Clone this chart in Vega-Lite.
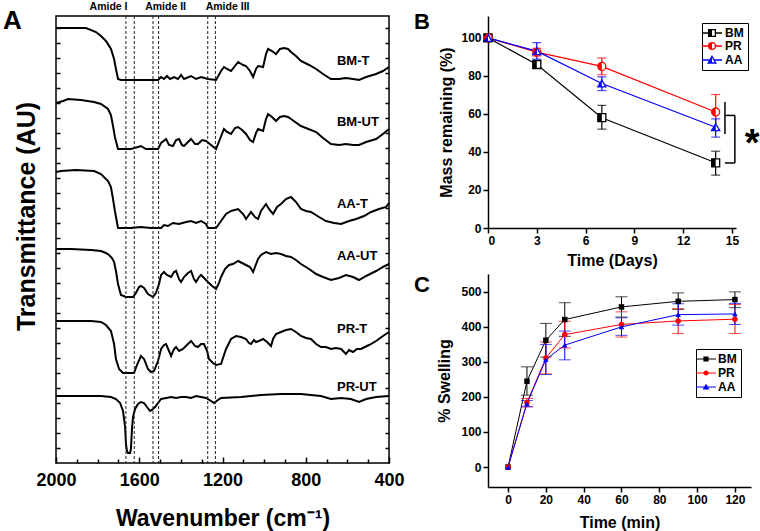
{
"$schema":"https://vega.github.io/schema/vega-lite/v6.json",
"background":"white",
"padding":{"left":2,"top":0,"right":0,"bottom":0},
"config":{"font":"Liberation Sans","view":{"stroke":null},
"axis":{"domainColor":"black","tickColor":"black","labelColor":"black","titleColor":"black","grid":false,"labelFontWeight":"bold","titleFontWeight":"bold","domainWidth":1.5,"tickWidth":1.5,"labelFont":"Liberation Sans","titleFont":"Liberation Sans"},
"legend":{"labelFont":"Liberation Sans","labelColor":"black"},
"title":{"font":"Liberation Sans","color":"black"}},
"datasets":{
"spectra":[
{"s":"BM-T","w":2000,"t":435},{"s":"BM-T","w":1856,"t":435},{"s":"BM-T","w":1808,"t":431},{"s":"BM-T","w":1784,"t":427},{"s":"BM-T","w":1760,"t":422},{"s":"BM-T","w":1736,"t":414},{"s":"BM-T","w":1721,"t":404},{"s":"BM-T","w":1712,"t":394},{"s":"BM-T","w":1702,"t":384},{"s":"BM-T","w":1688,"t":383},{"s":"BM-T","w":1510,"t":383},{"s":"BM-T","w":1495,"t":386},{"s":"BM-T","w":1481,"t":384},{"s":"BM-T","w":1467,"t":387},{"s":"BM-T","w":1452,"t":384},{"s":"BM-T","w":1433,"t":386},{"s":"BM-T","w":1414,"t":384},{"s":"BM-T","w":1399,"t":388},{"s":"BM-T","w":1385,"t":384},{"s":"BM-T","w":1351,"t":387},{"s":"BM-T","w":1327,"t":384},{"s":"BM-T","w":1303,"t":386},{"s":"BM-T","w":1270,"t":384},{"s":"BM-T","w":1231,"t":383},{"s":"BM-T","w":1207,"t":392},{"s":"BM-T","w":1193,"t":396},{"s":"BM-T","w":1178,"t":394},{"s":"BM-T","w":1159,"t":392},{"s":"BM-T","w":1125,"t":401},{"s":"BM-T","w":1101,"t":398},{"s":"BM-T","w":1087,"t":397},{"s":"BM-T","w":1068,"t":392},{"s":"BM-T","w":1053,"t":386},{"s":"BM-T","w":1039,"t":394},{"s":"BM-T","w":1029,"t":397},{"s":"BM-T","w":1005,"t":396},{"s":"BM-T","w":991,"t":409},{"s":"BM-T","w":981,"t":414},{"s":"BM-T","w":962,"t":412},{"s":"BM-T","w":943,"t":409},{"s":"BM-T","w":924,"t":414},{"s":"BM-T","w":904,"t":415},{"s":"BM-T","w":885,"t":414},{"s":"BM-T","w":871,"t":411},{"s":"BM-T","w":847,"t":407},{"s":"BM-T","w":823,"t":402},{"s":"BM-T","w":784,"t":398},{"s":"BM-T","w":750,"t":394},{"s":"BM-T","w":717,"t":389},{"s":"BM-T","w":679,"t":384},{"s":"BM-T","w":640,"t":384},{"s":"BM-T","w":607,"t":385},{"s":"BM-T","w":573,"t":384},{"s":"BM-T","w":544,"t":383},{"s":"BM-T","w":510,"t":386},{"s":"BM-T","w":462,"t":389},{"s":"BM-T","w":429,"t":392},{"s":"BM-T","w":400,"t":396},
{"s":"BM-UT","w":2000,"t":360},{"s":"BM-UT","w":1966,"t":362},{"s":"BM-UT","w":1942,"t":364},{"s":"BM-UT","w":1880,"t":363},{"s":"BM-UT","w":1817,"t":361},{"s":"BM-UT","w":1784,"t":359},{"s":"BM-UT","w":1750,"t":354},{"s":"BM-UT","w":1736,"t":348},{"s":"BM-UT","w":1726,"t":337},{"s":"BM-UT","w":1717,"t":326},{"s":"BM-UT","w":1702,"t":314},{"s":"BM-UT","w":1640,"t":314},{"s":"BM-UT","w":1606,"t":316},{"s":"BM-UT","w":1592,"t":317},{"s":"BM-UT","w":1568,"t":314},{"s":"BM-UT","w":1510,"t":314},{"s":"BM-UT","w":1495,"t":320},{"s":"BM-UT","w":1471,"t":324},{"s":"BM-UT","w":1457,"t":318},{"s":"BM-UT","w":1438,"t":317},{"s":"BM-UT","w":1423,"t":323},{"s":"BM-UT","w":1409,"t":324},{"s":"BM-UT","w":1395,"t":318},{"s":"BM-UT","w":1385,"t":317},{"s":"BM-UT","w":1366,"t":321},{"s":"BM-UT","w":1351,"t":324},{"s":"BM-UT","w":1332,"t":319},{"s":"BM-UT","w":1318,"t":319},{"s":"BM-UT","w":1298,"t":323},{"s":"BM-UT","w":1279,"t":322},{"s":"BM-UT","w":1255,"t":318},{"s":"BM-UT","w":1231,"t":314},{"s":"BM-UT","w":1212,"t":324},{"s":"BM-UT","w":1193,"t":334},{"s":"BM-UT","w":1178,"t":331},{"s":"BM-UT","w":1159,"t":329},{"s":"BM-UT","w":1140,"t":335},{"s":"BM-UT","w":1125,"t":336},{"s":"BM-UT","w":1106,"t":333},{"s":"BM-UT","w":1087,"t":329},{"s":"BM-UT","w":1068,"t":323},{"s":"BM-UT","w":1053,"t":321},{"s":"BM-UT","w":1039,"t":330},{"s":"BM-UT","w":1029,"t":334},{"s":"BM-UT","w":1005,"t":332},{"s":"BM-UT","w":991,"t":344},{"s":"BM-UT","w":981,"t":349},{"s":"BM-UT","w":962,"t":346},{"s":"BM-UT","w":943,"t":342},{"s":"BM-UT","w":924,"t":346},{"s":"BM-UT","w":904,"t":347},{"s":"BM-UT","w":885,"t":346},{"s":"BM-UT","w":871,"t":344},{"s":"BM-UT","w":823,"t":337},{"s":"BM-UT","w":750,"t":331},{"s":"BM-UT","w":717,"t":325},{"s":"BM-UT","w":679,"t":319},{"s":"BM-UT","w":640,"t":318},{"s":"BM-UT","w":607,"t":319},{"s":"BM-UT","w":573,"t":318},{"s":"BM-UT","w":544,"t":318},{"s":"BM-UT","w":510,"t":321},{"s":"BM-UT","w":462,"t":324},{"s":"BM-UT","w":429,"t":329},{"s":"BM-UT","w":400,"t":334},
{"s":"AA-T","w":2000,"t":291},{"s":"AA-T","w":1976,"t":292},{"s":"AA-T","w":1904,"t":293},{"s":"AA-T","w":1817,"t":292},{"s":"AA-T","w":1784,"t":289},{"s":"AA-T","w":1750,"t":282},{"s":"AA-T","w":1736,"t":276},{"s":"AA-T","w":1726,"t":264},{"s":"AA-T","w":1717,"t":252},{"s":"AA-T","w":1702,"t":235},{"s":"AA-T","w":1640,"t":235},{"s":"AA-T","w":1592,"t":236},{"s":"AA-T","w":1544,"t":235},{"s":"AA-T","w":1495,"t":235},{"s":"AA-T","w":1481,"t":238},{"s":"AA-T","w":1462,"t":237},{"s":"AA-T","w":1438,"t":240},{"s":"AA-T","w":1409,"t":239},{"s":"AA-T","w":1375,"t":241},{"s":"AA-T","w":1351,"t":242},{"s":"AA-T","w":1327,"t":240},{"s":"AA-T","w":1303,"t":242},{"s":"AA-T","w":1279,"t":239},{"s":"AA-T","w":1270,"t":235},{"s":"AA-T","w":1231,"t":235},{"s":"AA-T","w":1207,"t":242},{"s":"AA-T","w":1183,"t":249},{"s":"AA-T","w":1159,"t":252},{"s":"AA-T","w":1125,"t":254},{"s":"AA-T","w":1101,"t":249},{"s":"AA-T","w":1087,"t":244},{"s":"AA-T","w":1063,"t":251},{"s":"AA-T","w":1044,"t":246},{"s":"AA-T","w":1029,"t":244},{"s":"AA-T","w":1015,"t":252},{"s":"AA-T","w":991,"t":259},{"s":"AA-T","w":977,"t":254},{"s":"AA-T","w":957,"t":249},{"s":"AA-T","w":938,"t":256},{"s":"AA-T","w":919,"t":259},{"s":"AA-T","w":895,"t":264},{"s":"AA-T","w":871,"t":266},{"s":"AA-T","w":847,"t":261},{"s":"AA-T","w":823,"t":254},{"s":"AA-T","w":799,"t":252},{"s":"AA-T","w":775,"t":251},{"s":"AA-T","w":736,"t":246},{"s":"AA-T","w":703,"t":242},{"s":"AA-T","w":664,"t":240},{"s":"AA-T","w":630,"t":239},{"s":"AA-T","w":592,"t":242},{"s":"AA-T","w":558,"t":244},{"s":"AA-T","w":520,"t":247},{"s":"AA-T","w":486,"t":251},{"s":"AA-T","w":448,"t":254},{"s":"AA-T","w":414,"t":256},{"s":"AA-T","w":400,"t":260},
{"s":"AA-UT","w":2000,"t":214},{"s":"AA-UT","w":1928,"t":214},{"s":"AA-UT","w":1832,"t":213},{"s":"AA-UT","w":1784,"t":212},{"s":"AA-UT","w":1760,"t":210},{"s":"AA-UT","w":1745,"t":208},{"s":"AA-UT","w":1731,"t":205},{"s":"AA-UT","w":1721,"t":201},{"s":"AA-UT","w":1712,"t":192},{"s":"AA-UT","w":1702,"t":179},{"s":"AA-UT","w":1688,"t":168},{"s":"AA-UT","w":1664,"t":166},{"s":"AA-UT","w":1630,"t":166},{"s":"AA-UT","w":1616,"t":170},{"s":"AA-UT","w":1601,"t":176},{"s":"AA-UT","w":1592,"t":177},{"s":"AA-UT","w":1577,"t":175},{"s":"AA-UT","w":1558,"t":169},{"s":"AA-UT","w":1534,"t":166},{"s":"AA-UT","w":1520,"t":170},{"s":"AA-UT","w":1505,"t":179},{"s":"AA-UT","w":1495,"t":188},{"s":"AA-UT","w":1481,"t":191},{"s":"AA-UT","w":1467,"t":188},{"s":"AA-UT","w":1447,"t":186},{"s":"AA-UT","w":1433,"t":191},{"s":"AA-UT","w":1423,"t":192},{"s":"AA-UT","w":1409,"t":184},{"s":"AA-UT","w":1399,"t":181},{"s":"AA-UT","w":1385,"t":186},{"s":"AA-UT","w":1366,"t":190},{"s":"AA-UT","w":1351,"t":192},{"s":"AA-UT","w":1337,"t":184},{"s":"AA-UT","w":1327,"t":181},{"s":"AA-UT","w":1313,"t":186},{"s":"AA-UT","w":1303,"t":188},{"s":"AA-UT","w":1284,"t":184},{"s":"AA-UT","w":1270,"t":181},{"s":"AA-UT","w":1250,"t":177},{"s":"AA-UT","w":1231,"t":174},{"s":"AA-UT","w":1217,"t":180},{"s":"AA-UT","w":1207,"t":186},{"s":"AA-UT","w":1188,"t":194},{"s":"AA-UT","w":1169,"t":198},{"s":"AA-UT","w":1150,"t":199},{"s":"AA-UT","w":1125,"t":202},{"s":"AA-UT","w":1106,"t":200},{"s":"AA-UT","w":1087,"t":198},{"s":"AA-UT","w":1068,"t":196},{"s":"AA-UT","w":1053,"t":191},{"s":"AA-UT","w":1044,"t":196},{"s":"AA-UT","w":1029,"t":204},{"s":"AA-UT","w":1015,"t":208},{"s":"AA-UT","w":991,"t":211},{"s":"AA-UT","w":967,"t":209},{"s":"AA-UT","w":943,"t":210},{"s":"AA-UT","w":919,"t":209},{"s":"AA-UT","w":895,"t":207},{"s":"AA-UT","w":871,"t":206},{"s":"AA-UT","w":847,"t":203},{"s":"AA-UT","w":823,"t":199},{"s":"AA-UT","w":784,"t":194},{"s":"AA-UT","w":750,"t":189},{"s":"AA-UT","w":717,"t":186},{"s":"AA-UT","w":679,"t":183},{"s":"AA-UT","w":640,"t":185},{"s":"AA-UT","w":607,"t":188},{"s":"AA-UT","w":573,"t":186},{"s":"AA-UT","w":544,"t":183},{"s":"AA-UT","w":510,"t":187},{"s":"AA-UT","w":462,"t":192},{"s":"AA-UT","w":429,"t":196},{"s":"AA-UT","w":400,"t":199},
{"s":"PR-T","w":2000,"t":142},{"s":"PR-T","w":1928,"t":142},{"s":"PR-T","w":1832,"t":142},{"s":"PR-T","w":1784,"t":141},{"s":"PR-T","w":1760,"t":138},{"s":"PR-T","w":1736,"t":132},{"s":"PR-T","w":1721,"t":119},{"s":"PR-T","w":1712,"t":104},{"s":"PR-T","w":1697,"t":94},{"s":"PR-T","w":1678,"t":90},{"s":"PR-T","w":1625,"t":90},{"s":"PR-T","w":1611,"t":98},{"s":"PR-T","w":1592,"t":107},{"s":"PR-T","w":1577,"t":104},{"s":"PR-T","w":1558,"t":94},{"s":"PR-T","w":1544,"t":91},{"s":"PR-T","w":1529,"t":92},{"s":"PR-T","w":1510,"t":102},{"s":"PR-T","w":1495,"t":114},{"s":"PR-T","w":1481,"t":118},{"s":"PR-T","w":1471,"t":119},{"s":"PR-T","w":1457,"t":112},{"s":"PR-T","w":1447,"t":107},{"s":"PR-T","w":1433,"t":114},{"s":"PR-T","w":1423,"t":116},{"s":"PR-T","w":1409,"t":112},{"s":"PR-T","w":1390,"t":114},{"s":"PR-T","w":1371,"t":118},{"s":"PR-T","w":1351,"t":122},{"s":"PR-T","w":1332,"t":117},{"s":"PR-T","w":1318,"t":116},{"s":"PR-T","w":1303,"t":119},{"s":"PR-T","w":1289,"t":119},{"s":"PR-T","w":1274,"t":112},{"s":"PR-T","w":1265,"t":104},{"s":"PR-T","w":1246,"t":100},{"s":"PR-T","w":1231,"t":98},{"s":"PR-T","w":1207,"t":99},{"s":"PR-T","w":1183,"t":114},{"s":"PR-T","w":1159,"t":124},{"s":"PR-T","w":1135,"t":127},{"s":"PR-T","w":1111,"t":126},{"s":"PR-T","w":1087,"t":124},{"s":"PR-T","w":1073,"t":120},{"s":"PR-T","w":1063,"t":119},{"s":"PR-T","w":1049,"t":123},{"s":"PR-T","w":1039,"t":121},{"s":"PR-T","w":1025,"t":122},{"s":"PR-T","w":1005,"t":124},{"s":"PR-T","w":986,"t":121},{"s":"PR-T","w":967,"t":117},{"s":"PR-T","w":957,"t":124},{"s":"PR-T","w":943,"t":129},{"s":"PR-T","w":919,"t":131},{"s":"PR-T","w":895,"t":133},{"s":"PR-T","w":871,"t":134},{"s":"PR-T","w":847,"t":131},{"s":"PR-T","w":823,"t":127},{"s":"PR-T","w":799,"t":125},{"s":"PR-T","w":775,"t":124},{"s":"PR-T","w":750,"t":119},{"s":"PR-T","w":727,"t":116},{"s":"PR-T","w":703,"t":116},{"s":"PR-T","w":679,"t":114},{"s":"PR-T","w":655,"t":115},{"s":"PR-T","w":630,"t":114},{"s":"PR-T","w":616,"t":111},{"s":"PR-T","w":607,"t":109},{"s":"PR-T","w":592,"t":113},{"s":"PR-T","w":573,"t":111},{"s":"PR-T","w":554,"t":114},{"s":"PR-T","w":535,"t":114},{"s":"PR-T","w":496,"t":118},{"s":"PR-T","w":462,"t":122},{"s":"PR-T","w":429,"t":127},{"s":"PR-T","w":400,"t":131},
{"s":"PR-UT","w":2000,"t":67},{"s":"PR-UT","w":1880,"t":67},{"s":"PR-UT","w":1784,"t":67},{"s":"PR-UT","w":1736,"t":66},{"s":"PR-UT","w":1712,"t":64},{"s":"PR-UT","w":1692,"t":60},{"s":"PR-UT","w":1678,"t":52},{"s":"PR-UT","w":1668,"t":36},{"s":"PR-UT","w":1664,"t":19},{"s":"PR-UT","w":1659,"t":12},{"s":"PR-UT","w":1654,"t":10},{"s":"PR-UT","w":1644,"t":10},{"s":"PR-UT","w":1640,"t":14},{"s":"PR-UT","w":1635,"t":34},{"s":"PR-UT","w":1630,"t":46},{"s":"PR-UT","w":1620,"t":54},{"s":"PR-UT","w":1606,"t":59},{"s":"PR-UT","w":1592,"t":61},{"s":"PR-UT","w":1577,"t":60},{"s":"PR-UT","w":1563,"t":56},{"s":"PR-UT","w":1548,"t":52},{"s":"PR-UT","w":1539,"t":53},{"s":"PR-UT","w":1524,"t":56},{"s":"PR-UT","w":1510,"t":60},{"s":"PR-UT","w":1495,"t":64},{"s":"PR-UT","w":1471,"t":65},{"s":"PR-UT","w":1447,"t":66},{"s":"PR-UT","w":1423,"t":65},{"s":"PR-UT","w":1399,"t":66},{"s":"PR-UT","w":1375,"t":66},{"s":"PR-UT","w":1351,"t":65},{"s":"PR-UT","w":1327,"t":67},{"s":"PR-UT","w":1303,"t":66},{"s":"PR-UT","w":1279,"t":65},{"s":"PR-UT","w":1255,"t":62},{"s":"PR-UT","w":1241,"t":60},{"s":"PR-UT","w":1222,"t":63},{"s":"PR-UT","w":1207,"t":65},{"s":"PR-UT","w":1111,"t":66},{"s":"PR-UT","w":1015,"t":68},{"s":"PR-UT","w":919,"t":69},{"s":"PR-UT","w":823,"t":69},{"s":"PR-UT","w":727,"t":67},{"s":"PR-UT","w":679,"t":64},{"s":"PR-UT","w":630,"t":65},{"s":"PR-UT","w":583,"t":64},{"s":"PR-UT","w":544,"t":61},{"s":"PR-UT","w":510,"t":64},{"s":"PR-UT","w":462,"t":66},{"s":"PR-UT","w":400,"t":67}
],
"amide":[{"w":1664},{"w":1624},{"w":1534},{"w":1507},{"w":1271},{"w":1234}],
"slabels":[{"s":"BM-T","w":650,"t":402},{"s":"BM-UT","w":650,"t":341},{"s":"AA-T","w":650,"t":259},{"s":"AA-UT","w":650,"t":207},{"s":"PR-T","w":650,"t":134},{"s":"PR-UT","w":650,"t":76}],
"mass":[
{"g":"BM","d":0,"m":100,"lo":98.5,"hi":101.5},{"g":"BM","d":3,"m":86,"lo":84.5,"hi":87.5},{"g":"BM","d":7,"m":58,"lo":52,"hi":64.5},{"g":"BM","d":14,"m":34.3,"lo":27.8,"hi":40.4},
{"g":"PR","d":0,"m":100,"lo":98.5,"hi":101.5},{"g":"PR","d":3,"m":92.5,"lo":90.5,"hi":94.5},{"g":"PR","d":7,"m":85,"lo":80.6,"hi":89.4},{"g":"PR","d":14,"m":61,"lo":51.8,"hi":70.2},
{"g":"AA","d":0,"m":100,"lo":98.5,"hi":101.5},{"g":"AA","d":3,"m":93,"lo":88.8,"hi":97.5},{"g":"AA","d":7,"m":76,"lo":72.3,"hi":79.5},{"g":"AA","d":14,"m":53,"lo":47.8,"hi":57.4}
],
"bracket":[{"x":14.57,"x2":14.57,"y":49.5,"y2":66.3},{"x":14.57,"x2":15.18,"y":59.2,"y2":59.2},{"x":15.18,"x2":15.18,"y":34.2,"y2":59.2},{"x":14.57,"x2":15.18,"y":34.2,"y2":34.2}],
"star":[{"d":16.25,"m":48.6}],
"swell":[
{"g":"BM","tm":0,"sw":0,"lo":null,"hi":null},{"g":"BM","tm":10,"sw":245,"lo":205,"hi":286},{"g":"BM","tm":20,"sw":362,"lo":314,"hi":410},{"g":"BM","tm":30,"sw":421,"lo":373,"hi":469},{"g":"BM","tm":60,"sw":457,"lo":428,"hi":486},{"g":"BM","tm":90,"sw":473,"lo":450,"hi":497},{"g":"BM","tm":120,"sw":478,"lo":455,"hi":500},
{"g":"PR","tm":0,"sw":0,"lo":null,"hi":null},{"g":"PR","tm":10,"sw":184,"lo":172,"hi":196},{"g":"PR","tm":20,"sw":311,"lo":266,"hi":357},{"g":"PR","tm":30,"sw":378,"lo":340,"hi":416},{"g":"PR","tm":60,"sw":407,"lo":371,"hi":443},{"g":"PR","tm":90,"sw":417,"lo":381,"hi":452},{"g":"PR","tm":120,"sw":422,"lo":381,"hi":464},
{"g":"AA","tm":0,"sw":0,"lo":null,"hi":null},{"g":"AA","tm":10,"sw":181,"lo":172,"hi":190},{"g":"AA","tm":20,"sw":307,"lo":264,"hi":350},{"g":"AA","tm":30,"sw":348,"lo":306,"hi":388},{"g":"AA","tm":60,"sw":400,"lo":376,"hi":426},{"g":"AA","tm":90,"sw":435,"lo":405,"hi":466},{"g":"AA","tm":120,"sw":437,"lo":407,"hi":467}
]
},
"hconcat":[
{
"width":333,"height":447,
"view":{"stroke":"black","strokeWidth":1.5},
"title":{"text":"A","anchor":"start","frame":"group","dx":-53,"dy":54,"offset":0,"baseline":"alphabetic","fontSize":26,"fontWeight":"bold"},
"layer":[
{"data":{"name":"spectra"},"mark":{"type":"line","color":"black","strokeWidth":2},
"encoding":{
"x":{"field":"w","type":"quantitative","scale":{"domain":[400,2000],"reverse":true,"nice":false,"zero":false},
"axis":{"orient":"bottom","values":[2000,1900,1800,1700,1600,1500,1400,1300,1200,1100,1000,900,800,700,600,500,400],"format":"d","labelExpr":"datum.value % 400 == 0 ? datum.label : ''","tickSize":{"condition":{"test":"datum.value % 400 == 0","value":-6},"value":-4},"domain":false,"labelFontSize":18,"labelPadding":14,"labelOverlap":false,"labelFlush":false,"title":"Wavenumber (cm⁻¹)","titleFontSize":23,"titlePadding":16}},
"y":{"field":"t","type":"quantitative","scale":{"domain":[0,447],"nice":false,"zero":false},
"axis":{"orient":"left","values":[15,30,45,60,75,90,105,120,135,150,165,180,195,210,225,240,255,270,285,300,315,330,345,360,375,390,405,420,435],"labels":false,"tickSize":-4,"domain":false,"title":"Transmittance (AU)","titleFontSize":25,"titlePadding":16,"titleY":200}},
"detail":{"field":"s"}}},
{"data":{"name":"amide"},"mark":{"type":"rule","color":"#222222","strokeWidth":1,"strokeDash":[3,2]},
"encoding":{"x":{"field":"w","type":"quantitative",
"axis":{"orient":"top","values":[1750,1476,1178],"labelExpr":"datum.value == 1750 ? 'Amide I' : datum.value == 1476 ? 'Amide II' : 'Amide III'","ticks":false,"tickSize":0,"domain":false,"labelFontSize":10.5,"labelPadding":5,"labelOverlap":false,"labelFlush":false,"title":null}}}},
{"data":{"name":"slabels"},"mark":{"type":"text","align":"left","baseline":"middle","fontSize":13,"fontWeight":"bold","color":"black"},
"encoding":{"x":{"field":"w","type":"quantitative","axis":null},
"y":{"field":"t","type":"quantitative","axis":{"orient":"right","values":[15,30,45,60,75,90,105,120,135,150,165,180,195,210,225,240,255,270,285,300,315,330,345,360,375,390,405,420,435],"labels":false,"tickSize":-4,"domain":false,"title":null}},
"text":{"field":"s"}}}
],
"resolve":{"axis":{"x":"independent","y":"independent"}}
},
{
"vconcat":[
{
"width":248,"height":212,
"title":{"text":"B","anchor":"start","frame":"group","dx":-74,"dy":35,"offset":0,"baseline":"alphabetic","fontSize":22,"fontWeight":"bold"},
"layer":[
{"data":{"name":"mass"},"mark":{"type":"line","strokeWidth":1.2},
"encoding":{
"x":{"field":"d","type":"quantitative","scale":{"domain":[0,15.25],"nice":false},
"axis":{"values":[0,1.5,3,4.5,6,7.5,9,10.5,12,13.5,15],"labelExpr":"datum.value % 3 == 0 ? datum.label : ''","tickSize":{"condition":{"test":"datum.value % 3 == 0","value":5},"value":3},"labelFontSize":12,"labelPadding":2,"labelOverlap":false,"title":"Time (Days)","titleFontSize":16,"titlePadding":6}},
"y":{"field":"m","type":"quantitative","scale":{"domain":[0,111.5],"nice":false},
"axis":{"values":[0,10,20,30,40,50,60,70,80,90,100],"labelExpr":"datum.value % 20 == 0 ? datum.label : ''","tickSize":{"condition":{"test":"datum.value % 20 == 0","value":5},"value":3},"labelFontSize":12,"labelPadding":2,"labelOverlap":false,"title":"Mass remaining (%)","titleFontSize":16,"titlePadding":6}},
"color":{"field":"g","type":"nominal","scale":{"domain":["BM","PR","AA"],"range":["#000000","#ff0000","#0000ff"]},"legend":null}}},
{"data":{"name":"mass"},"mark":{"type":"rule","strokeWidth":1.2},
"encoding":{"x":{"field":"d","type":"quantitative"},"y":{"field":"lo","type":"quantitative"},"y2":{"field":"hi"},"color":{"field":"g","type":"nominal","scale":{"domain":["BM","PR","AA"],"range":["#000000","#ff0000","#0000ff"]},"legend":null}}},
{"data":{"name":"mass"},"mark":{"type":"tick","orient":"horizontal","size":9,"thickness":1.2},
"encoding":{"x":{"field":"d","type":"quantitative"},"y":{"field":"lo","type":"quantitative"},"color":{"field":"g","type":"nominal","scale":{"domain":["BM","PR","AA"],"range":["#000000","#ff0000","#0000ff"]},"legend":null}}},
{"data":{"name":"mass"},"mark":{"type":"tick","orient":"horizontal","size":9,"thickness":1.2},
"encoding":{"x":{"field":"d","type":"quantitative"},"y":{"field":"hi","type":"quantitative"},"color":{"field":"g","type":"nominal","scale":{"domain":["BM","PR","AA"],"range":["#000000","#ff0000","#0000ff"]},"legend":null}}},
{"data":{"name":"mass"},"mark":{"type":"point","filled":false,"fill":"white","size":64,"strokeWidth":1.3,"opacity":1},
"encoding":{"x":{"field":"d","type":"quantitative"},"y":{"field":"m","type":"quantitative"},"color":{"field":"g","type":"nominal","scale":{"domain":["BM","PR","AA"],"range":["#000000","#ff0000","#0000ff"]},"legend":null},
"shape":{"field":"g","type":"nominal","scale":{"domain":["BM","PR","AA"],"range":["square","circle","triangle-up"]},"legend":null}}},
{"data":{"name":"mass"},"mark":{"type":"point","filled":true,"size":64,"opacity":1},
"encoding":{"x":{"field":"d","type":"quantitative"},"y":{"field":"m","type":"quantitative"},"color":{"field":"g","type":"nominal","scale":{"domain":["BM","PR","AA"],"range":["#000000","#ff0000","#0000ff"]},"legend":null},
"shape":{"field":"g","type":"nominal","scale":{"domain":["BM","PR","AA"],"range":["M-1,-1H0V1H-1Z","M0,-1A1,1,0,0,0,0,1Z","M0,-0.866L-1,0.866H0Z"]},"legend":null}}},
{"data":{"name":"mass"},"mark":{"type":"point","filled":false,"size":64,"strokeWidth":1.3,"opacity":0},
"encoding":{"x":{"field":"d","type":"quantitative"},"y":{"field":"m","type":"quantitative"},
"color":{"field":"g","type":"nominal","scale":{"domain":["BM","PR","AA"],"range":["#000000","#ff0000","#0000ff"]},
"legend":{"orient":"none","legendX":214,"legendY":7,"title":null,"strokeColor":"black","padding":4,"labelFontSize":12,"labelFontWeight":"bold","symbolSize":64,"rowPadding":1,"symbolStrokeWidth":1.3,"symbolOpacity":1,"labelOffset":7}},
"shape":{"field":"g","type":"nominal","scale":{"domain":["BM","PR","AA"],"range":[
"M-2.5,0H-0.85M0.85,0H2.5M-0.85,-0.85H0.85V0.85H-0.85ZM-0.85,-0.7H0M-0.85,-0.5H0M-0.85,-0.3H0M-0.85,-0.1H0M-0.85,0.1H0M-0.85,0.3H0M-0.85,0.5H0M-0.85,0.7H0",
"M-2.5,0H-0.85M0.85,0H2.5M-0.85,0A0.85,0.85,0,1,0,0.85,0A0.85,0.85,0,1,0,-0.85,0M-0.48,-0.7H0M-0.69,-0.5H0M-0.8,-0.3H0M-0.84,-0.1H0M-0.84,0.1H0M-0.8,0.3H0M-0.69,0.5H0M-0.48,0.7H0",
"M-2.5,0H-0.52M0.52,0H2.5M0,-0.9L0.95,0.75H-0.95ZM-0.12,-0.7H0M-0.23,-0.5H0M-0.35,-0.3H0M-0.46,-0.1H0M-0.58,0.1H0M-0.69,0.3H0M-0.81,0.5H0M-0.92,0.7H0"]},
"legend":{"orient":"none","legendX":214,"legendY":7,"title":null,"strokeColor":"black","padding":4,"labelFontSize":12,"labelFontWeight":"bold","symbolSize":64,"rowPadding":1,"symbolStrokeWidth":1.3,"symbolOpacity":1,"labelOffset":7}}}},
{"data":{"name":"bracket"},"mark":{"type":"rule","color":"black","strokeWidth":1.5},
"encoding":{"x":{"field":"x","type":"quantitative"},"x2":{"field":"x2"},"y":{"field":"y","type":"quantitative"},"y2":{"field":"y2"}}},
{"data":{"name":"star"},"mark":{"type":"text","text":"*","fontSize":38,"fontWeight":"bold","align":"center","baseline":"alphabetic","dy":20,"color":"black"},
"encoding":{"x":{"field":"d","type":"quantitative"},"y":{"field":"m","type":"quantitative"}}}
],
"resolve":{"scale":{"shape":"independent","color":"independent"},"legend":{"shape":"independent","color":"independent"}}
},
{
"width":263,"height":213,
"title":{"text":"C","anchor":"start","frame":"group","dx":-74,"dy":40,"offset":0,"baseline":"alphabetic","fontSize":22,"fontWeight":"bold"},
"layer":[
{"data":{"name":"swell"},"mark":{"type":"line","strokeWidth":1},
"encoding":{
"x":{"field":"tm","type":"quantitative","scale":{"domain":[-10.6,128.5],"nice":false,"zero":false},
"axis":{"values":[0,10,20,30,40,50,60,70,80,90,100,110,120],"labelExpr":"datum.value % 20 == 0 ? datum.label : ''","tickSize":{"condition":{"test":"datum.value % 20 == 0","value":5},"value":3},"labelFontSize":12,"labelPadding":2,"labelOverlap":false,"title":"Time (min)","titleFontSize":16,"titlePadding":9}},
"y":{"field":"sw","type":"quantitative","scale":{"domain":[-57,551],"nice":false,"zero":false},
"axis":{"values":[0,50,100,150,200,250,300,350,400,450,500],"labelExpr":"datum.value % 100 == 0 ? datum.label : ''","tickSize":{"condition":{"test":"datum.value % 100 == 0","value":5},"value":3},"labelFontSize":12,"labelPadding":2,"labelOverlap":false,"title":"% Swelling","titleFontSize":16,"titlePadding":8}},
"color":{"field":"g","type":"nominal","scale":{"domain":["BM","PR","AA"],"range":["#000000","#ff0000","#0000ff"]},"legend":null}}},
{"data":{"name":"swell"},"mark":{"type":"rule","strokeWidth":1},
"encoding":{"x":{"field":"tm","type":"quantitative"},"y":{"field":"lo","type":"quantitative"},"y2":{"field":"hi"},"color":{"field":"g","type":"nominal","scale":{"domain":["BM","PR","AA"],"range":["#000000","#ff0000","#0000ff"]},"legend":null}}},
{"data":{"name":"swell"},"mark":{"type":"tick","orient":"horizontal","size":12,"thickness":1},
"encoding":{"x":{"field":"tm","type":"quantitative"},"y":{"field":"lo","type":"quantitative"},"color":{"field":"g","type":"nominal","scale":{"domain":["BM","PR","AA"],"range":["#000000","#ff0000","#0000ff"]},"legend":null}}},
{"data":{"name":"swell"},"mark":{"type":"tick","orient":"horizontal","size":12,"thickness":1},
"encoding":{"x":{"field":"tm","type":"quantitative"},"y":{"field":"hi","type":"quantitative"},"color":{"field":"g","type":"nominal","scale":{"domain":["BM","PR","AA"],"range":["#000000","#ff0000","#0000ff"]},"legend":null}}},
{"data":{"name":"swell"},"mark":{"type":"point","filled":true,"size":30,"opacity":1},
"encoding":{"x":{"field":"tm","type":"quantitative"},"y":{"field":"sw","type":"quantitative"},"color":{"field":"g","type":"nominal","scale":{"domain":["BM","PR","AA"],"range":["#000000","#ff0000","#0000ff"]},"legend":null},
"shape":{"field":"g","type":"nominal","scale":{"domain":["BM","PR","AA"],"range":["square","circle","triangle-up"]},"legend":null}}},
{"data":{"name":"swell"},"mark":{"type":"point","filled":false,"size":64,"strokeWidth":1.2,"opacity":0},
"encoding":{"x":{"field":"tm","type":"quantitative"},"y":{"field":"sw","type":"quantitative"},
"color":{"field":"g","type":"nominal","scale":{"domain":["BM","PR","AA"],"range":["#000000","#ff0000","#0000ff"]},
"legend":{"orient":"none","legendX":208,"legendY":75,"title":null,"strokeColor":"black","padding":4,"labelFontSize":12,"labelFontWeight":"bold","symbolSize":64,"rowPadding":2,"symbolStrokeWidth":1.2,"symbolOpacity":1,"labelOffset":6}},
"shape":{"field":"g","type":"nominal","scale":{"domain":["BM","PR","AA"],"range":[
"M-2.5,0H2.5M-0.5,-0.5H0.5V0.5H-0.5ZM-0.5,-0.3H0.5M-0.5,-0.1H0.5M-0.5,0.1H0.5M-0.5,0.3H0.5",
"M-2.5,0H2.5M-0.5,0A0.5,0.5,0,1,0,0.5,0A0.5,0.5,0,1,0,-0.5,0M-0.4,-0.3H0.4M-0.49,-0.1H0.49M-0.49,0.1H0.49M-0.4,0.3H0.4",
"M-2.5,0H2.5M0,-0.55L0.6,0.45H-0.6ZM-0.15,-0.3H0.15M-0.27,-0.1H0.27M-0.39,0.1H0.39M-0.51,0.3H0.51"]},
"legend":{"orient":"none","legendX":208,"legendY":75,"title":null,"strokeColor":"black","padding":4,"labelFontSize":12,"labelFontWeight":"bold","symbolSize":64,"rowPadding":2,"symbolStrokeWidth":1.2,"symbolOpacity":1,"labelOffset":6}}}}
],
"resolve":{"scale":{"shape":"independent","color":"independent"},"legend":{"shape":"independent","color":"independent"}}
}
],
"spacing":46,"bounds":"flush",
"resolve":{"scale":{"color":"independent","shape":"independent","x":"independent","y":"independent"},"legend":{"color":"independent","shape":"independent"}}
}
],
"spacing":99,"bounds":"flush",
"resolve":{"scale":{"color":"independent","shape":"independent","x":"independent","y":"independent"},"legend":{"color":"independent","shape":"independent"}}
}
